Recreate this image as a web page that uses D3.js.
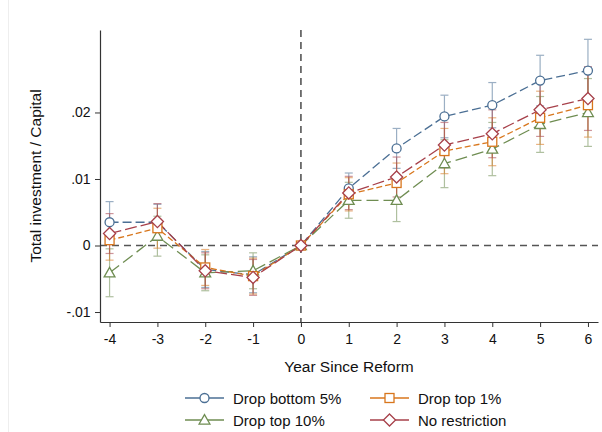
<!DOCTYPE html>
<html>
<head>
<meta charset="utf-8">
<script src="https://cdn.jsdelivr.net/npm/d3@7"></script>
<style>
  body { margin: 0; background: #fff; }
  text { font-family: "Liberation Sans", Arial, sans-serif; fill: #111; }
</style>
</head>
<body>
<div id="chart"></div>
<script>
// data
var years = [-4, -3, -2, -1, 0, 1, 2, 3, 4, 5, 6];
var yTicks = [-0.01, 0, 0.01, 0.02];
var yTickLabels = ["-.01", "0", ".01", ".02"];

var bottom5 = [0.0035, 0.0035, -0.0036, -0.0044, 0, 0.0086, 0.0146, 0.0194, 0.0211, 0.0248, 0.0263];
var bottom5Err = [0.0031, 0.0027, 0.0027, 0.0027, 0, 0.0023, 0.0030, 0.0032, 0.0034, 0.0038, 0.0047];
var top1 = [0.0008, 0.0026, -0.0033, -0.0046, 0, 0.0077, 0.0094, 0.0142, 0.0156, 0.0192, 0.0211];
var top1Err = [0.0030, 0.0030, 0.0027, 0.0027, 0, 0.0025, 0.0030, 0.0034, 0.0036, 0.0040, 0.0048];
var top10 = [-0.0041, 0.0014, -0.0041, -0.0038, 0, 0.0068, 0.0068, 0.0123, 0.0145, 0.0182, 0.0200];
var top10Err = [0.0036, 0.0030, 0.0027, 0.0027, 0, 0.0027, 0.0032, 0.0036, 0.0040, 0.0042, 0.0051];
var noRestr = [0.0018, 0.0036, -0.0038, -0.0048, 0, 0.0079, 0.0103, 0.0151, 0.0168, 0.0204, 0.0221];
var noRestrErr = [0.0030, 0.0027, 0.0027, 0.0027, 0, 0.0025, 0.0030, 0.0034, 0.0036, 0.0040, 0.0048];

var series = [
  {name: "Drop bottom 5%", vals: bottom5, err: bottom5Err, color: "#4b6f94", dash: "9,4", shape: "circle"},
  {name: "Drop top 10%", vals: top10, err: top10Err, color: "#6f8d52", dash: "12,5", shape: "triangle"},
  {name: "Drop top 1%", vals: top1, err: top1Err, color: "#d8761c", dash: "6,3", shape: "square"},
  {name: "No restriction", vals: noRestr, err: noRestrErr, color: "#a7404a", dash: "12,4", shape: "diamond"}
];

var svgWidth = 602;
var svgHeight = 432;

var svg = d3.select("#chart")
  .append("svg")
  .attr("width", svgWidth)
  .attr("height", svgHeight);

// faint outer frame
svg.append("rect")
  .attr("x", 8.5).attr("y", -1)
  .attr("width", svgWidth + 2).attr("height", svgHeight + 2)
  .attr("fill", "none")
  .attr("stroke", "#eee");

var plot = {left: 100, right: 598, top: 30, bottom: 322};

var xScale = d3.scaleLinear()
  .domain([-4.2, 6.21])
  .range([plot.left, plot.right]);

var yScale = d3.scaleLinear()
  .domain([-0.0115, 0.0324])
  .range([plot.bottom, plot.top]);

// reference lines
svg.append("line")
  .attr("x1", plot.left).attr("x2", plot.right)
  .attr("y1", yScale(0)).attr("y2", yScale(0))
  .attr("stroke", "#555").attr("stroke-width", 1.6)
  .attr("stroke-dasharray", "7,5");

svg.append("line")
  .attr("x1", xScale(0)).attr("x2", xScale(0))
  .attr("y1", plot.top).attr("y2", plot.bottom)
  .attr("stroke", "#555").attr("stroke-width", 1.6)
  .attr("stroke-dasharray", "7,5");

// axes
var leftAxis = d3.axisLeft(yScale)
  .tickValues(yTicks)
  .tickFormat((d, i) => yTickLabels[i])
  .tickSize(5)
  .tickSizeOuter(0);

var bottomAxis = d3.axisBottom(xScale)
  .tickValues(years)
  .tickFormat(d => String(d))
  .tickSize(5)
  .tickSizeOuter(0);

var gy = svg.append("g")
  .attr("transform", `translate(${plot.left}, 0)`)
  .call(leftAxis);

var gx = svg.append("g")
  .attr("transform", `translate(0, ${plot.bottom})`)
  .call(bottomAxis);

[gx, gy].forEach(function(g) {
  g.select(".domain").attr("stroke", "#333").attr("stroke-width", 1.2);
  g.selectAll(".tick line").attr("stroke", "#333");
  g.selectAll(".tick text")
    .attr("font-size", 14)
    .attr("font-family", "Liberation Sans, Arial, sans-serif")
    .attr("fill", "#111");
});
gx.selectAll(".tick text").attr("dy", "1.0em");
gy.selectAll(".tick text").attr("dx", "-0.1em");

// axis titles
svg.append("text")
  .attr("x", (plot.left + plot.right) / 2)
  .attr("y", 372)
  .attr("text-anchor", "middle")
  .attr("font-size", 15.5)
  .text("Year Since Reform");

svg.append("text")
  .attr("transform", "rotate(-90)")
  .attr("x", -176)
  .attr("y", 41)
  .attr("text-anchor", "middle")
  .attr("font-size", 15.5)
  .text("Total investment / Capital");

// marker shapes
function drawMarker(g, shape, x, y, color) {
  var r = 4.5;
  if (shape === "circle") {
    g.append("circle").attr("cx", x).attr("cy", y).attr("r", r)
      .attr("fill", "#fff").attr("stroke", color).attr("stroke-width", 1.3);
  } else if (shape === "square") {
    g.append("rect").attr("x", x - r).attr("y", y - r)
      .attr("width", 2 * r).attr("height", 2 * r)
      .attr("fill", "#fff").attr("stroke", color).attr("stroke-width", 1.3);
  } else if (shape === "triangle") {
    var t = r * 1.2;
    g.append("path")
      .attr("d", `M${x},${y - t}L${x + t},${y + t * 0.75}L${x - t},${y + t * 0.75}Z`)
      .attr("fill", "#fff").attr("stroke", color).attr("stroke-width", 1.3);
  } else {
    var d = r * 1.35;
    g.append("path")
      .attr("d", `M${x},${y - d}L${x + d},${y}L${x},${y + d}L${x - d},${y}Z`)
      .attr("fill", "#fff").attr("stroke", color).attr("stroke-width", 1.3);
  }
}

// error bars
series.forEach(function(s) {
  var g = svg.append("g").attr("opacity", 0.55);
  years.forEach(function(yr, i) {
    if (s.err[i] === 0) return;
    var x = xScale(yr);
    var lo = yScale(s.vals[i] - s.err[i]);
    var hi = yScale(s.vals[i] + s.err[i]);
    g.append("line").attr("x1", x).attr("x2", x).attr("y1", lo).attr("y2", hi)
      .attr("stroke", s.color).attr("stroke-width", 1.2);
    [lo, hi].forEach(function(yy) {
      g.append("line").attr("x1", x - 4).attr("x2", x + 4).attr("y1", yy).attr("y2", yy)
        .attr("stroke", s.color).attr("stroke-width", 1.2);
    });
  });
});

// lines and markers
var line = d3.line()
  .x((d, i) => xScale(years[i]))
  .y(d => yScale(d));

series.forEach(function(s) {
  svg.append("path")
    .datum(s.vals)
    .attr("d", line)
    .attr("fill", "none")
    .attr("stroke", s.color)
    .attr("stroke-width", 1.3)
    .attr("stroke-dasharray", s.dash);
});

series.forEach(function(s) {
  var g = svg.append("g");
  s.vals.forEach(function(v, i) {
    drawMarker(g, s.shape, xScale(years[i]), yScale(v), s.color);
  });
});

// legend
var legendPos = [
  {x: 185, y: 398}, {x: 185, y: 420}, {x: 370, y: 398}, {x: 370, y: 420}
];
series.forEach(function(s, i) {
  var p = legendPos[i];
  var g = svg.append("g");
  g.append("line").attr("x1", p.x).attr("x2", p.x + 39)
    .attr("y1", p.y).attr("y2", p.y)
    .attr("stroke", s.color).attr("stroke-width", 1.3);
  drawMarker(g, s.shape, p.x + 19.5, p.y, s.color);
  g.append("text")
    .attr("x", p.x + 48)
    .attr("y", p.y + 5.5)
    .attr("font-size", 15)
    .text(s.name);
});
</script>
</body>
</html>
